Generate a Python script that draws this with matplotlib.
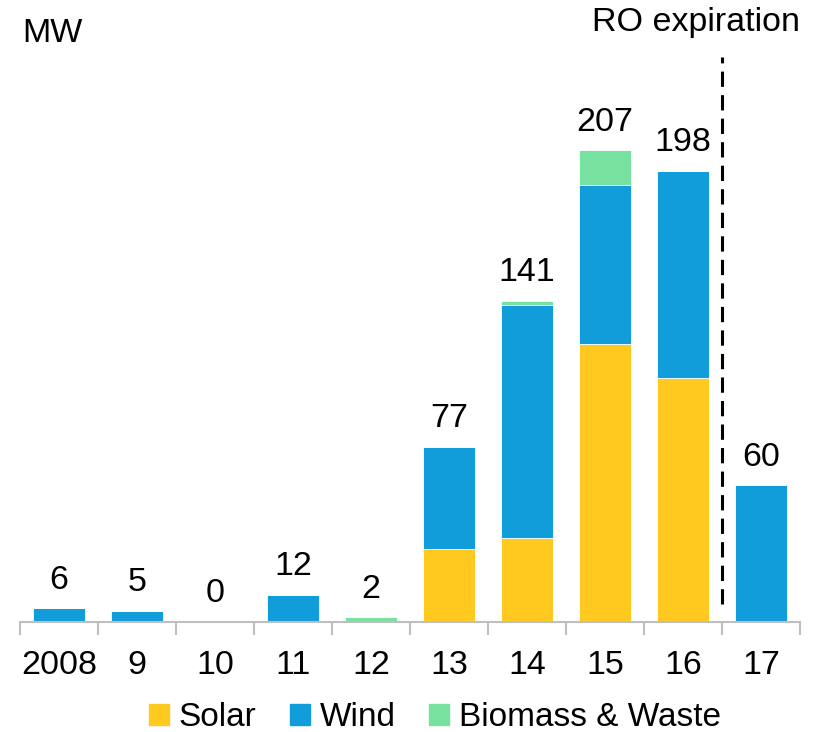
import numpy as np
import matplotlib.pyplot as plt
from matplotlib.patches import Patch

plt.rcParams['font.family'] = ['Liberation Sans', 'DejaVu Sans']

years = ['2008', '9', '10', '11', '12', '13', '14', '15', '16', '17']
solar = [0, 0, 0, 0, 0, 32, 37, 122, 107, 0]
wind = [6, 5, 0, 12, 0, 45, 102, 70, 91, 60]
biomass = [0, 0, 0, 0, 2, 0, 2, 15, 0, 0]
totals = [6, 5, 0, 12, 2, 77, 141, 207, 198, 60]

c_solar = '#FFC91F'
c_wind = '#109DD9'
c_bio = '#77E2A0'

fig = plt.figure(figsize=(8.13, 7.32), dpi=100)
W, H = 813, 732
ax = fig.add_axes([20 / W, (H - 622) / H, 780 / W, 582 / H])

x = np.arange(len(years))
s = np.array(solar)
w = np.array(wind)
b = np.array(biomass)
bw = 0.67
ax.bar(x, s, bw, color=c_solar, edgecolor='white', linewidth=0.6)
ax.bar(x, w, bw, bottom=s, color=c_wind, edgecolor='white', linewidth=0.6)
ax.bar(x, b, bw, bottom=s + w, color=c_bio, edgecolor='white', linewidth=0.6)

for i, t in enumerate(totals):
    ax.text(x[i], t + 5.5, str(t), ha='center', va='bottom', fontsize=24.5)

ax.set_xlim(-0.5, len(years) - 0.5)
ax.set_ylim(0, 255.5)
ax.set_yticks([])
for sp in ['top', 'right', 'left']:
    ax.spines[sp].set_visible(False)
ax.spines['bottom'].set_color('#BFBFBF')
ax.spines['bottom'].set_linewidth(1.5)

ax.set_xticks(x)
ax.set_xticklabels(years, fontsize=24.5)
ax.tick_params(axis='x', length=0, pad=20)
ax.set_xticks(np.arange(-0.5, len(years)), minor=True)
ax.tick_params(axis='x', which='minor', length=9, width=1.5, color='#BFBFBF')

ax.plot([8.5, 8.5], [8, 248], color='black', linestyle=(0, (5, 2.7)), linewidth=2.2,
        clip_on=False)

fig.text(22 / W, 1 - 34 / H, 'MW', fontsize=24.5, va='center', ha='left')
fig.text(800 / W, 1 - 22 / H, 'RO expiration', fontsize=24.5, va='center', ha='right')

handles = [Patch(color=c_solar, label='Solar'),
           Patch(color=c_wind, label='Wind'),
           Patch(color=c_bio, label='Biomass & Waste')]
fig.legend(handles=handles, loc='center', bbox_to_anchor=(435 / W, 1 - 718 / H),
           ncol=3, frameon=False, fontsize=24, handlelength=0.6, handleheight=0.6,
           handletextpad=0.3, columnspacing=1.0, borderaxespad=0, borderpad=0)

fig.savefig('out.png', dpi=100)
